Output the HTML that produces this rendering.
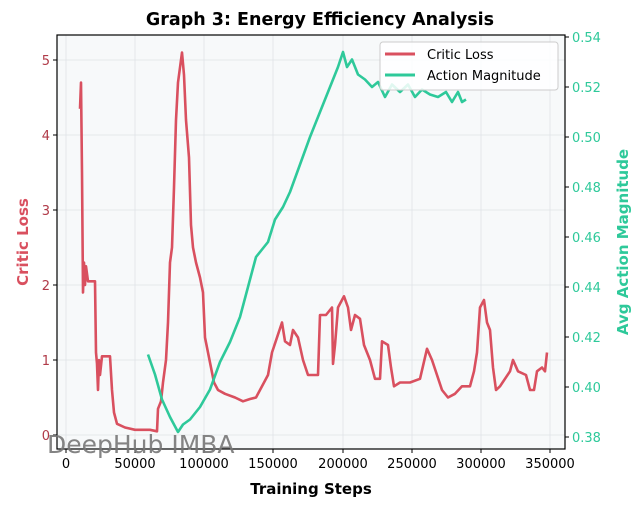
<!DOCTYPE html>
<html><head><meta charset="utf-8"><style>
body{margin:0;background:#fff;}
svg{display:block;font-family:"DejaVu Sans","Liberation Sans",sans-serif;}
</style></head><body>
<svg id="s" width="640" height="505" viewBox="0 0 640 505">
<rect x="57" y="35" width="508" height="414" fill="#f7f9fa"/>
<g stroke="#dfe3e6" stroke-width="0.8">
<line x1="66" y1="35" x2="66" y2="449"/><line x1="135" y1="35" x2="135" y2="449"/><line x1="204" y1="35" x2="204" y2="449"/><line x1="273" y1="35" x2="273" y2="449"/><line x1="343" y1="35" x2="343" y2="449"/><line x1="412" y1="35" x2="412" y2="449"/><line x1="481" y1="35" x2="481" y2="449"/><line x1="550" y1="35" x2="550" y2="449"/>
<line x1="57" y1="435" x2="565" y2="435"/><line x1="57" y1="360" x2="565" y2="360"/><line x1="57" y1="285" x2="565" y2="285"/><line x1="57" y1="210" x2="565" y2="210"/><line x1="57" y1="135" x2="565" y2="135"/><line x1="57" y1="60" x2="565" y2="60"/>
</g>
<g id="lines"></g>
<rect x="57" y="35" width="508" height="414" fill="none" stroke="#000" stroke-width="1.2"/>
<text x="320" y="25" text-anchor="middle" font-size="17.5" font-weight="bold">Graph 3: Energy Efficiency Analysis</text>
<g font-size="13" fill="#b03a48" text-anchor="end">
<text x="50" y="440">0</text><text x="50" y="365">1</text><text x="50" y="290">2</text><text x="50" y="215">3</text><text x="50" y="140">4</text><text x="50" y="65">5</text>
</g>
<g stroke="#000"><line x1="53" y1="435" x2="57" y2="435"/><line x1="53" y1="360" x2="57" y2="360"/><line x1="53" y1="285" x2="57" y2="285"/><line x1="53" y1="210" x2="57" y2="210"/><line x1="53" y1="135" x2="57" y2="135"/><line x1="53" y1="60" x2="57" y2="60"/>
<line x1="565" y1="37" x2="569" y2="37"/><line x1="565" y1="87" x2="569" y2="87"/><line x1="565" y1="137" x2="569" y2="137"/><line x1="565" y1="187" x2="569" y2="187"/><line x1="565" y1="237" x2="569" y2="237"/><line x1="565" y1="287" x2="569" y2="287"/><line x1="565" y1="337" x2="569" y2="337"/><line x1="565" y1="387" x2="569" y2="387"/><line x1="565" y1="437" x2="569" y2="437"/>
<line x1="66" y1="449" x2="66" y2="453"/><line x1="135" y1="449" x2="135" y2="453"/><line x1="204" y1="449" x2="204" y2="453"/><line x1="273" y1="449" x2="273" y2="453"/><line x1="343" y1="449" x2="343" y2="453"/><line x1="412" y1="449" x2="412" y2="453"/><line x1="481" y1="449" x2="481" y2="453"/><line x1="550" y1="449" x2="550" y2="453"/></g>
<g font-size="13" fill="#2ec99a">
<text x="572" y="42">0.54</text><text x="572" y="92">0.52</text><text x="572" y="142">0.50</text><text x="572" y="192">0.48</text><text x="572" y="242">0.46</text><text x="572" y="292">0.44</text><text x="572" y="342">0.42</text><text x="572" y="392">0.40</text><text x="572" y="442">0.38</text>
</g>
<g font-size="13" text-anchor="middle">
<text x="66" y="468">0</text><text x="135" y="468">50000</text><text x="204" y="468">100000</text><text x="273" y="468">150000</text><text x="343" y="468">200000</text><text x="412" y="468">250000</text><text x="481" y="468">300000</text><text x="550" y="468">350000</text>
</g>
<text x="311" y="494" text-anchor="middle" font-size="15" font-weight="bold">Training Steps</text>
<text transform="translate(28,242) rotate(-90)" text-anchor="middle" font-size="15" font-weight="bold" fill="#d9505f">Critic Loss</text>
<text transform="translate(628,242) rotate(-90)" text-anchor="middle" font-size="15" font-weight="bold" fill="#2ec99a">Avg Action Magnitude</text>
<rect x="380" y="42" width="178" height="48" rx="3" fill="#fff" fill-opacity="0.85" stroke="#ccc"/>
<line x1="385" y1="54" x2="415" y2="54" stroke="#d9505f" stroke-width="3"/>
<line x1="385" y1="75" x2="415" y2="75" stroke="#2ec99a" stroke-width="3"/>
<text x="427" y="59" font-size="13">Critic Loss</text>
<text x="427" y="80" font-size="13">Action Magnitude</text>
<text x="47" y="453" font-size="25" fill="#777" fill-opacity="0.9">DeepHub IMBA</text>
</svg>
<script>
var red=[[80,4.35],[81,4.7],[82,3.5],[83,1.9],[84,2.3],[85,2.0],[86,2.25],[88,2.05],[95,2.05],[96,1.1],[97,0.95],[98,0.6],[99,1.0],[100,0.8],[102,1.05],[110,1.05],[112,0.6],[114,0.3],[117,0.15],[125,0.1],[135,0.07],[150,0.07],[157,0.05],[158,0.35],[161,0.45],[163,0.7],[166,1.0],[168,1.5],[170,2.3],[172,2.5],[174,3.3],[176,4.2],[178,4.7],[180,4.9],[182,5.1],[184,4.8],[186,4.2],[189,3.7],[191,2.8],[193,2.5],[196,2.3],[200,2.1],[203,1.9],[205,1.3],[208,1.1],[211,0.9],[214,0.7],[218,0.6],[225,0.55],[235,0.5],[243,0.45],[250,0.48],[256,0.5],[262,0.65],[268,0.8],[272,1.1],[277,1.3],[282,1.5],[285,1.25],[290,1.2],[293,1.4],[298,1.3],[303,1.0],[308,0.8],[318,0.8],[320,1.6],[326,1.6],[332,1.7],[333,0.95],[335,1.2],[338,1.7],[344,1.85],[348,1.7],[351,1.4],[355,1.6],[360,1.55],[364,1.2],[370,1.0],[375,0.75],[380,0.75],[382,1.25],[388,1.2],[391,0.9],[394,0.65],[400,0.7],[410,0.7],[420,0.75],[427,1.15],[432,1.0],[437,0.8],[442,0.6],[448,0.5],[455,0.55],[462,0.65],[470,0.65],[474,0.85],[477,1.1],[480,1.7],[484,1.8],[487,1.5],[490,1.4],[493,0.9],[496,0.6],[500,0.65],[505,0.75],[510,0.85],[513,1.0],[518,0.85],[526,0.8],[530,0.6],[534,0.6],[537,0.85],[542,0.9],[545,0.85],[547,1.1]];
var grn=[[148,0.413],[155,0.405],[162,0.395],[170,0.388],[178,0.382],[183,0.385],[190,0.387],[200,0.392],[210,0.399],[220,0.41],[230,0.418],[240,0.428],[248,0.44],[256,0.452],[262,0.455],[268,0.458],[275,0.467],[283,0.472],[290,0.478],[300,0.489],[310,0.5],[320,0.51],[330,0.52],[338,0.528],[343,0.534],[347,0.528],[352,0.531],[358,0.525],[365,0.523],[372,0.52],[378,0.522],[385,0.516],[392,0.521],[400,0.518],[408,0.521],[415,0.516],[422,0.519],[430,0.517],[438,0.516],[446,0.518],[452,0.514],[458,0.518],[462,0.514],[466,0.515]];
function pts(a,f){return a.map(function(p){return p[0]+','+f(p[1]).toFixed(1)}).join(' ')}
var g=document.getElementById('lines');
g.innerHTML='<polyline fill="none" stroke="#d9505f" stroke-width="2.6" stroke-linejoin="round" points="'+pts(red,function(v){return 435-v*75})+'"/>'+
'<polyline fill="none" stroke="#2ec99a" stroke-width="2.6" stroke-linejoin="round" points="'+pts(grn,function(v){return 437-(v-0.38)*2500})+'"/>';
</script>
</body></html>
